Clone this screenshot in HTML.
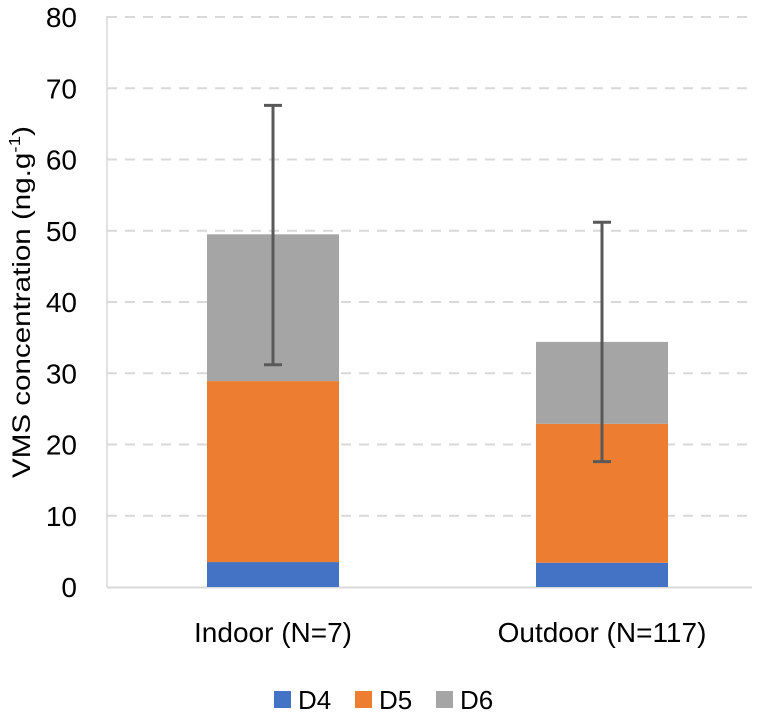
<!DOCTYPE html>
<html><head><meta charset="utf-8"><style>
body{margin:0;background:#fff;}
svg text{font-family:"Liberation Sans",sans-serif;fill:#000;}
</style></head><body>
<svg width="768" height="718" xmlns="http://www.w3.org/2000/svg">
<g id="grid"></g>
<g id="bars"></g>
<g id="errs"></g>
<g id="labels"></g>
<text transform="translate(30,302) rotate(-90)" text-anchor="middle" font-size="25" textLength="352" lengthAdjust="spacingAndGlyphs">VMS concentration (ng.g<tspan dy="-10" font-size="16">-1</tspan><tspan dy="10">)</tspan></text>
<g>
<rect x="274" y="691" width="17" height="17" fill="#4472c4"/>
<text x="298" y="709" font-size="26">D4</text>
<rect x="355" y="691" width="17" height="17" fill="#ed7d31"/>
<text x="379" y="709" font-size="26">D5</text>
<rect x="436" y="691" width="17" height="17" fill="#a5a5a5"/>
<text x="460" y="709" font-size="26">D6</text>
</g>
</svg>
<script>
const categories=["Indoor (N=7)","Outdoor (N=117)"];
const d4=[3.5,3.4];
const d5=[25.4,19.5];
const d6=[20.6,11.5];
const errHigh=[67.6,51.2];
const errLow=[31.2,17.6];
const yTicks=[0,10,20,30,40,50,60,70,80];
const NS="http://www.w3.org/2000/svg";
const y=v=>587-v*7.125;
const xc=i=>273+i*329;
const bw=132;
function mk(tag,attrs,parent){const e=document.createElementNS(NS,tag);for(const k in attrs)e.setAttribute(k,attrs[k]);document.getElementById(parent).appendChild(e);return e;}
yTicks.forEach(t=>{
  if(t>0){const l=mk('line',{x1:107,x2:752,y1:y(t),y2:y(t),stroke:'#d9d9d9','stroke-width':2,'stroke-dasharray':'10,8'},'grid');
  
  }
  const tx=mk('text',{x:77,y:y(t)+10,'text-anchor':'end','font-size':28},'labels');tx.textContent=t;
  
  
});
const ax=mk('line',{x1:107,x2:107,y1:16,y2:587,stroke:'#d9d9d9','stroke-width':1.5},'grid');


const xa=mk('line',{x1:107,x2:752,y1:587.5,y2:587.5,stroke:'#d9d9d9','stroke-width':2},'grid');


const series=[[d4,'#4472c4','d4'],[d5,'#ed7d31','d5'],[d6,'#a5a5a5','d6']];
categories.forEach((c,i)=>{
  let base=0;
  series.forEach(([arr,col,nm])=>{
    const top=base+arr[i];
    const r=mk('rect',{x:xc(i)-bw/2,y:y(top),width:bw,height:y(base)-y(top),fill:col},'bars');
    
    
    base=top;
  });
  const el=mk('line',{x1:xc(i),x2:xc(i),y1:y(errHigh[i]),y2:y(errLow[i]),stroke:'#595959','stroke-width':3},'errs');
  
  
  [errHigh[i],errLow[i]].forEach(v=>{const cp=mk('line',{x1:xc(i)-9,x2:xc(i)+9,y1:y(v),y2:y(v),stroke:'#595959','stroke-width':3},'errs');
  
  });
  const t=mk('text',{x:xc(i),y:642,'text-anchor':'middle','font-size':28},'labels');t.textContent=c;
  
  
});
</script>
</body></html>
